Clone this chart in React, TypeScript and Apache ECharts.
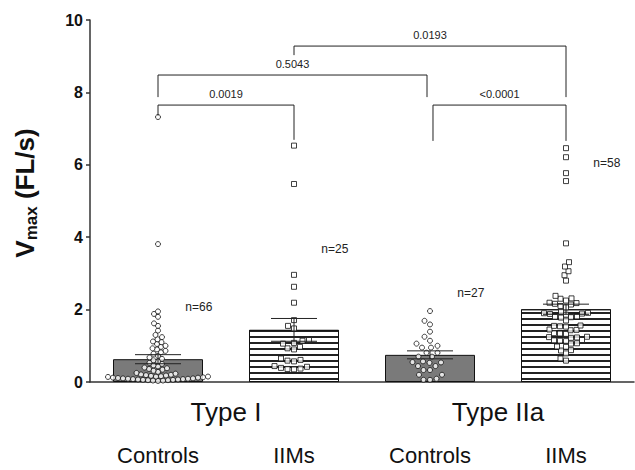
import React, { useEffect, useRef } from "react";
import * as echarts from "echarts";

// Fibre groups along the x axis
const groups = ["Controls", "IIMs", "Controls", "IIMs"];
const fiberTypes = ["Type I", "Type IIa"];

// Group means and SEM (FL/s)
const barMeans = [0.63, 1.44, 0.75, 2.01];
const barSems = [0.125, 0.315, 0.11, 0.14];
const sampleSizes = [66, 25, 27, 58];
// Height at which each "n=" label sits
const nLabelHeights = [2.07, 3.67, 2.47, 6.04];

// Individual fibre velocities
const controlsTypeI = [
  7.32, 3.81,
  1.95, 1.88, 1.8, 1.62, 1.55, 1.42, 1.3, 1.24, 1.18, 1.12, 1.1, 1.05,
  1.0, 0.97, 0.93, 0.9, 0.86, 0.82, 0.78,
  0.72, 0.68, 0.64, 0.6, 0.57, 0.53, 0.5,
  0.46, 0.43, 0.4, 0.38, 0.36, 0.34, 0.31,
  0.28, 0.25, 0.23, 0.21, 0.2, 0.19, 0.18,
  0.17, 0.16, 0.15, 0.15, 0.14, 0.13, 0.12, 0.12, 0.11, 0.1, 0.1, 0.09,
  0.09, 0.08, 0.08, 0.07, 0.07, 0.06, 0.06, 0.05, 0.05, 0.04, 0.04, 0.03,
];
const iimsTypeI = [
  6.53, 5.47, 2.96, 2.63, 2.19, 1.71, 1.55, 1.48, 1.16, 1.14, 1.08, 1.06,
  0.97, 0.93, 0.9, 0.65, 0.61, 0.59, 0.57, 0.44, 0.42, 0.39, 0.37, 0.36, 0.35,
];
const controlsTypeIIa = [
  1.96, 1.69, 1.59, 1.39, 1.25, 1.14, 1.06, 1.0, 0.95, 0.95, 0.81, 0.81,
  0.7, 0.7, 0.57, 0.55, 0.54, 0.53, 0.44, 0.44, 0.33, 0.33, 0.2, 0.2,
  0.09, 0.06, 0.06,
];
const iimsTypeIIa = [
  6.46, 6.21, 5.77, 5.55, 3.83, 3.31, 3.19, 3.06, 2.95, 2.8,
  2.38, 2.31, 2.3, 2.25, 2.19, 2.18, 2.16, 2.14, 2.1, 2.06,
  1.94, 1.91, 1.9, 1.89, 1.88, 1.86, 1.81, 1.8, 1.79, 1.78, 1.7,
  1.56, 1.55, 1.54, 1.53, 1.45, 1.44, 1.43, 1.35, 1.34, 1.33,
  1.25, 1.24, 1.23, 1.22, 1.16, 1.15, 1.14, 1.13, 1.07, 1.06,
  0.98, 0.97, 0.88, 0.87, 0.79, 0.65, 0.59,
];

// Pairwise comparisons
const pLabels = ["0.0019", "0.5043", "0.0193", "<0.0001"];
// [left x, right x, bracket height, left foot, right foot]
const bracketSpans = [
  [0, 1, 7.65, 7.36, 6.69],
  [0, 1.978, 8.48, 7.87, 7.87],
  [1, 3, 9.28, 9.03, 7.87],
  [2.022, 3, 7.65, 6.66, 6.66],
];

const WIDTH = 635;
const HEIGHT = 470;
const GRID = { left: 90, right: 1, top: 20, bottom: 88 };
const Y_MAX = 10;
const PX_PER_Y = (HEIGHT - GRID.top - GRID.bottom) / Y_MAX;
const PX_PER_X = (WIDTH - GRID.left - GRID.right) / groups.length;
const FONT = "'Liberation Sans', Arial, Helvetica, sans-serif";

// Simple beeswarm: nudge each point sideways until it no longer overlaps
function swarm(values: number[], center: number, diameter: number) {
  const placed: { x: number; y: number }[] = [];
  const out: number[][] = [];
  const order = values.map((_, i) => i).sort((a, b) => values[a] - values[b]);
  for (const i of order) {
    const y = values[i] * PX_PER_Y;
    let best = 0;
    for (let k = 0; k < 600; k++) {
      const cand = (k % 2 === 0 ? 1 : -1) * Math.ceil(k / 2) * 0.5;
      const ok = placed.every(
        (p) => (p.x - cand) ** 2 + (p.y - y) ** 2 >= diameter * diameter
      );
      if (ok) {
        best = cand;
        break;
      }
    }
    placed.push({ x: best, y });
    out.push([center + best / PX_PER_X, values[i]]);
  }
  return out;
}

export default function App() {
  const ref = useRef<HTMLDivElement>(null);

  useEffect(() => {
    if (!ref.current) return;
    const chart = echarts.init(ref.current, null, { renderer: "svg" });

    const pointStyle = { color: "#fff", borderColor: "#111", borderWidth: 1 };
    const stripes = {
      symbol: "rect",
      symbolSize: 1,
      dashArrayX: [1, 0],
      dashArrayY: [1.2, 4.0],
      rotation: 0,
      color: "#222",
    };

    const option: any = {
      animation: false,
      backgroundColor: "#fff",
      grid: { ...GRID },
      xAxis: [
        {
          type: "category",
          data: groups,
          position: "bottom",
          axisLine: { show: true, onZero: false, lineStyle: { color: "#333", width: 1.5 } },
          axisTick: { show: false },
          axisLabel: { fontSize: 22, color: "#111", fontFamily: FONT, margin: 62 },
        },
        {
          type: "value",
          min: -0.5,
          max: groups.length - 0.5,
          show: false,
        },
        {
          type: "category",
          data: fiberTypes,
          position: "bottom",
          axisLine: { show: false, onZero: false },
          axisTick: { show: false },
          axisLabel: { fontSize: 26, color: "#111", fontFamily: FONT, margin: 17 },
        },
      ],
      yAxis: {
        type: "value",
        min: 0,
        max: Y_MAX,
        interval: 2,
        splitLine: { show: false },
        axisLine: { show: true, onZero: false, lineStyle: { color: "#333", width: 1.5 } },
        axisTick: { show: true, length: 4, lineStyle: { color: "#333", width: 1.5 } },
        axisLabel: {
          fontSize: 16,
          fontWeight: "bold",
          color: "#111",
          fontFamily: FONT,
          margin: 7,
        },
        name: "{v|V}{s|max}{v| (FL/s)}",
        nameLocation: "middle",
        nameRotate: 90,
        nameGap: 50,
        nameTextStyle: {
          padding: [0, 0, 0, 16],
          rich: {
            v: { fontSize: 26, fontWeight: "bold", color: "#111", fontFamily: FONT, lineHeight: 30 },
            s: {
              fontSize: 17,
              fontWeight: "bold",
              color: "#111",
              fontFamily: FONT,
              lineHeight: 17,
              verticalAlign: "bottom",
              padding: [12, 0, 0, 0],
            },
          },
        },
      },
      series: [
        {
          type: "bar",
          xAxisIndex: 0,
          barWidth: 90,
          z: 2,
          data: barMeans.map((m, i) => ({
            value: m,
            itemStyle:
              i % 2 === 0
                ? { color: "#7a7a7a", borderColor: "#111", borderWidth: 1 }
                : { color: "#fff", borderColor: "#111", borderWidth: 1, decal: stripes },
          })),
        },
        {
          type: "scatter",
          xAxisIndex: 1,
          symbol: "circle",
          symbolSize: 5,
          z: 3,
          itemStyle: pointStyle,
          data: swarm(controlsTypeI, 0, 4.6),
        },
        {
          type: "scatter",
          xAxisIndex: 1,
          symbol: "rect",
          symbolSize: 5,
          z: 3,
          itemStyle: pointStyle,
          data: swarm(iimsTypeI, 1, 6.5),
        },
        {
          type: "scatter",
          xAxisIndex: 1,
          symbol: "circle",
          symbolSize: 5,
          z: 3,
          itemStyle: pointStyle,
          data: swarm(controlsTypeIIa, 2, 6.5),
        },
        {
          type: "scatter",
          xAxisIndex: 1,
          symbol: "rect",
          symbolSize: 5,
          z: 3,
          itemStyle: pointStyle,
          data: swarm(iimsTypeIIa, 3, 5.6),
        },
        {
          // mean ± SEM
          type: "custom",
          xAxisIndex: 1,
          z: 4,
          data: barMeans.map((m, i) => [i, m - barSems[i], m + barSems[i]]),
          renderItem: (params: any, api: any) => {
            const lo = api.coord([api.value(0), api.value(1)]);
            const hi = api.coord([api.value(0), api.value(2)]);
            const half = 23;
            const s = { stroke: "#222", lineWidth: 1 };
            return {
              type: "group",
              children: [
                { type: "line", shape: { x1: lo[0], y1: lo[1], x2: hi[0], y2: hi[1] }, style: s },
                { type: "line", shape: { x1: hi[0] - half, y1: hi[1], x2: hi[0] + half, y2: hi[1] }, style: s },
                { type: "line", shape: { x1: lo[0] - half, y1: lo[1], x2: lo[0] + half, y2: lo[1] }, style: s },
              ],
            };
          },
        },
        {
          // significance brackets
          type: "custom",
          xAxisIndex: 1,
          z: 4,
          data: bracketSpans,
          renderItem: (params: any, api: any) => {
            const a = api.coord([api.value(0), api.value(2)]);
            const b = api.coord([api.value(1), api.value(2)]);
            const aFoot = api.coord([api.value(0), api.value(3)]);
            const bFoot = api.coord([api.value(1), api.value(4)]);
            return {
              type: "group",
              children: [
                {
                  type: "polyline",
                  shape: { points: [aFoot, a, b, bFoot] },
                  style: { stroke: "#222", lineWidth: 1, fill: "none" },
                },
                {
                  type: "text",
                  style: {
                    text: pLabels[params.dataIndex],
                    x: (a[0] + b[0]) / 2,
                    y: a[1] - 6,
                    align: "center",
                    verticalAlign: "bottom",
                    fontSize: 11,
                    fontFamily: FONT,
                    fill: "#222",
                  },
                },
              ],
            };
          },
        },
        {
          // group sizes
          type: "custom",
          xAxisIndex: 1,
          z: 4,
          data: nLabelHeights.map((h, i) => [i, h]),
          renderItem: (params: any, api: any) => {
            const p = api.coord([api.value(0) + 0.3, api.value(1)]);
            return {
              type: "text",
              style: {
                text: "n=" + sampleSizes[params.dataIndex],
                x: p[0],
                y: p[1],
                align: "center",
                verticalAlign: "middle",
                fontSize: 12,
                fontFamily: FONT,
                fill: "#222",
              },
            };
          },
        },
      ],
    };

    chart.setOption(option);
    return () => chart.dispose();
  }, []);

  return (
    <div
      ref={ref}
      style={{
        position: "fixed",
        left: 0,
        top: 0,
        width: WIDTH,
        height: HEIGHT,
        background: "#fff",
      }}
    />
  );
}
